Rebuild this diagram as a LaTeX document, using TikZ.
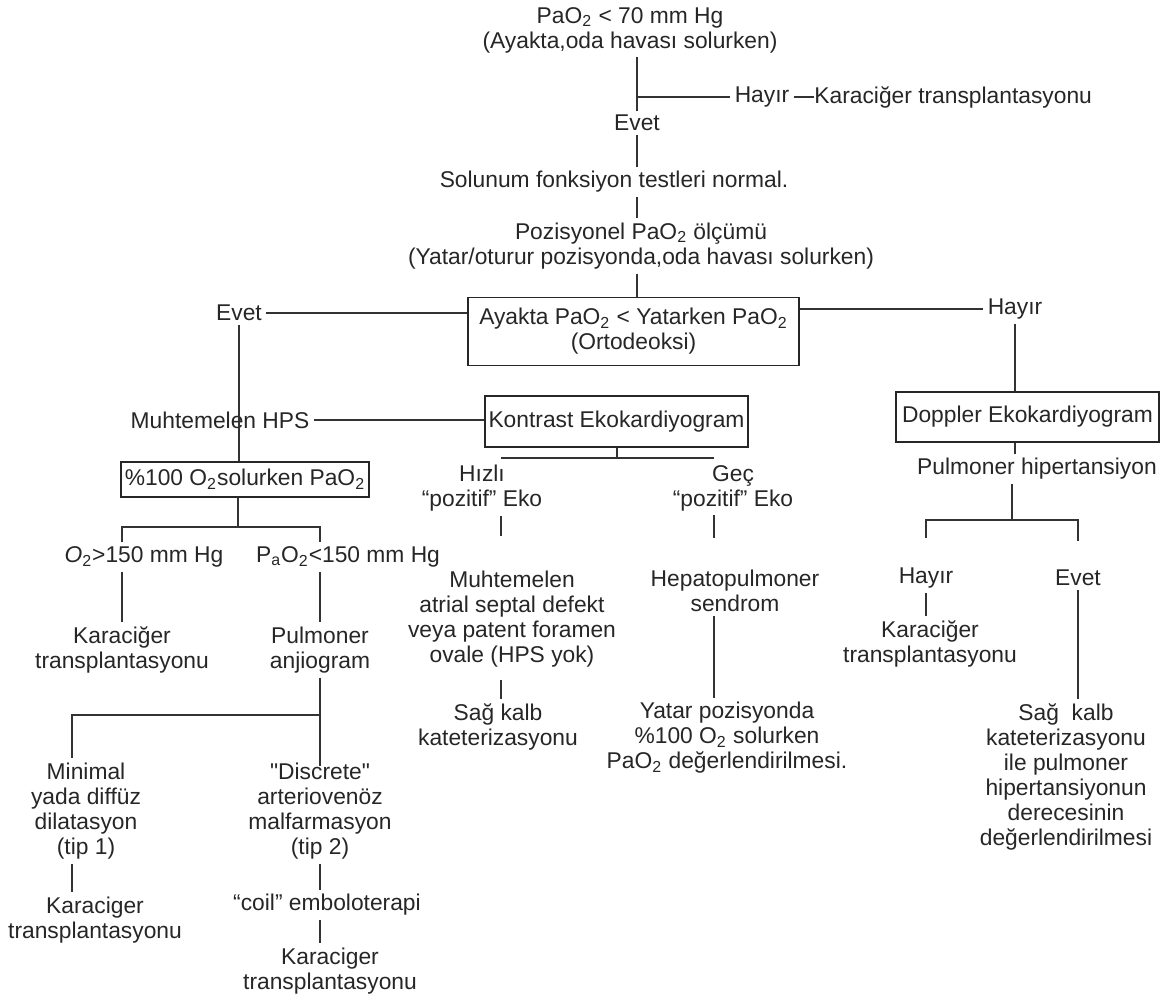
\documentclass[tikz,border=0pt]{standalone}
\usepackage{fontspec}
\setmainfont{Liberation Sans}
\usetikzlibrary{calc}
\begin{document}
\begin{tikzpicture}[x=0.5pt, y=-0.5pt,
  txt/.style={inner sep=2pt, align=center, text=black!85, font=\fontsize{11.4}{12.5}\selectfont},
  kutu/.style={txt, draw=black!85, line width=0.6pt, inner sep=0pt},
  hat/.style={draw=black!80, line width=0.6pt}]
\useasboundingbox (0,0) rectangle (1175,1000);

% ust kisim
\node[txt] (q1) at (630,30) {PaO\textsubscript{2} < 70 mm Hg\\(Ayakta,oda havası solurken)};
\node[txt] (evet1) at (637,123) {Evet};
\node[txt] (hay1) at (762,97) {Hayır};
\node[txt, anchor=west, inner sep=0pt] (kc1) at (814,97) {Karaciğer transplantasyonu};
\node[txt] (sol) at (614,182) {Solunum fonksiyon testleri normal.};
\node[txt] (poz) at (641,246) {Pozisyonel PaO\textsubscript{2} ölçümü\\(Yatar/oturur pozisyonda,oda havası solurken)};
\node[kutu, minimum width=165.5pt, minimum height=34pt] (orto) at (633.5,331.5) {Ayakta PaO\textsubscript{2} < Yatarken PaO\textsubscript{2}\\(Ortodeoksi)};
\node[txt] (evet2) at (239,313) {Evet};
\node[txt] (hay2) at (1015,309) {Hayır};

% sag kol
\node[kutu, minimum width=131.5pt, minimum height=25pt] (dop) at (1027.5,417) {Doppler Ekokardiyogram};
\node[txt] (pht) at (1037,469) {Pulmoner hipertansiyon};
\node[txt] (hay3) at (926,578) {Hayır};
\node[txt] (evet3) at (1078,578) {Evet};
\node[txt] (kc2) at (930,644) {Karaciğer\\transplantasyonu};
\node[txt] (sag2) at (1066,777) {Sağ\ \ kalb\\kateterizasyonu\\ile pulmoner\\hipertansiyonun\\derecesinin\\değerlendirilmesi};

% orta kol
\node[txt] (mhps) at (220,420) {Muhtemelen HPS};
\node[kutu, minimum width=131.5pt, minimum height=25.5pt] (kon) at (616.5,421.5) {Kontrast Ekokardiyogram};
\node[txt] (hizli) at (482,488) {Hızlı\\“pozitif” Eko};
\node[txt] (gec) at (733,488) {Geç\\“pozitif” Eko};
\node[txt] (asd) at (512,619) {Muhtemelen\\atrial septal defekt\\veya patent foramen\\ovale (HPS yok)};
\node[txt] (sag1) at (498,727) {Sağ kalb\\kateterizasyonu};
\node[txt] (hep) at (735,591) {Hepatopulmoner\\sendrom};
\node[txt] (yat) at (727,738) {Yatar pozisyonda\\\%100 O\textsubscript{2} solurken\\PaO\textsubscript{2} değerlendirilmesi.};

% sol kol
\node[kutu, minimum width=124pt, minimum height=17.5pt] (o2) at (245,479.5) {\%100 O\textsubscript{2}solurken PaO\textsubscript{2}};
\node[txt] (o2b) at (144,557) {\textit{O}\textsubscript{2}>150 mm Hg};
\node[txt] (o2k) at (348,557) {P\textsubscript{a}O\textsubscript{2}<150 mm Hg};
\node[txt] (kc3) at (122,650) {Karaciğer\\transplantasyonu};
\node[txt] (pul) at (320,650) {Pulmoner\\anjiogram};
\node[txt] (mini) at (86,811) {Minimal\\yada diffüz\\dilatasyon\\(tip 1)};
\node[txt] (disc) at (320,811) {\textquotedbl Discrete\textquotedbl\\arteriovenöz\\malfarmasyon\\(tip 2)};
\node[txt] (kc4) at (95,920) {Karaciger\\transplantasyonu};
\node[txt] (coil) at (327,905) {“coil” emboloterapi};
\node[txt] (kc5) at (330,971) {Karaciger\\transplantasyonu};

\coordinate (c1) at (1012,520);
\coordinate (c2) at (617,458);
\coordinate (hx) at (501,458);
\coordinate (gx) at (714,458);
\coordinate (c3) at (238,527);
\coordinate (c4) at (72,715);

% baglantilar
\draw[hat] (q1.south -| evet1) -- (evet1.north);
\draw[hat] (hay1.west -| evet1) -- (hay1.west);
\draw[hat] (hay1.east) -- (kc1.west);
\draw[hat] (evet1.south) -- (sol.north -| evet1);
\draw[hat] (sol.south -| evet1) -- (poz.north -| evet1);
\draw[hat] (poz.south -| evet1) -- (orto.north -| evet1);
\draw[hat] (evet2.east) -- (evet2.east -| orto.west);
\draw[hat] (orto.east |- hay2.west) -- (hay2.west);

\draw[hat] (hay2.south) -- (dop.north -| hay2);
\draw[hat] (dop.south -| hay2) -- (pht.north -| hay2);
\draw[hat] (pht.south -| c1) -- (c1);
\draw[hat] ($(hay3.north)+(0,-25)$) |- (c1) -| ($(evet3.north)+(0,-25)$);
\draw[hat] (hay3.south) -- (kc2.north -| hay3);
\draw[hat] (evet3.south) -- (sag2.north -| evet3);

\draw[hat] (evet2.south) -- (o2.north -| evet2);
\draw[hat] (mhps.east) -- (kon.west |- mhps.east);
\draw[hat] (kon.south -| c2) -- (c2);
\draw[hat] (hx) -- (gx);
\draw[hat] (hizli.south -| hx) -- ($(asd.north -| hx)+(0,-30)$);
\draw[hat] (gec.south -| gx) -- ($(hep.north -| gx)+(0,-28)$);
\draw[hat, shorten <=4pt] (asd.south -| hx) -- (sag1.north -| hx);
\draw[hat] (hep.south -| gx) -- (yat.north -| gx);

\draw[hat] (o2.south -| c3) -- (c3);
\draw[hat] (o2b.north -| kc3) |- (c3) -| (o2k.north -| pul);
\draw[hat] (o2b.south -| kc3) -- (kc3.north);
\draw[hat] (o2k.south -| pul) -- (pul.north);
\draw[hat, shorten >=-4pt] (pul.south) -- (disc.north);
\draw[hat] (pul.south |- c4) -- (c4) -- (mini.north -| c4);
\draw[hat] (mini.south -| c4) -- (kc4.north -| c4);
\draw[hat] (disc.south) -- (coil.north -| disc);
\draw[hat] (coil.south -| disc) -- (kc5.north -| disc);
\end{tikzpicture}
\end{document}
